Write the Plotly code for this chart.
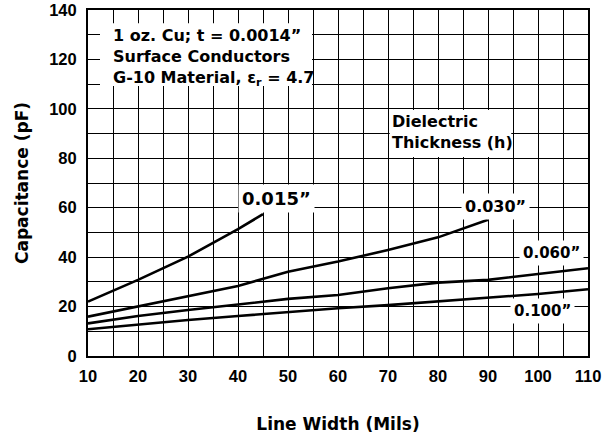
import plotly.graph_objects as go

# Data
width_015 = [10, 20, 30, 40, 45]
cap_015 = [22.0, 30.8, 40.2, 51.3, 57.4]

width_030 = [10, 20, 30, 40, 50, 60, 70, 80, 90]
cap_030 = [15.9, 20.0, 24.0, 28.3, 34.1, 38.2, 42.9, 48.0, 55.1]

width_060 = [10, 20, 30, 40, 50, 60, 70, 80, 90, 100, 110]
cap_060 = [13.2, 16.2, 18.6, 20.9, 23.1, 24.7, 27.4, 29.7, 30.8, 33.2, 35.5]

width_100 = [10, 20, 30, 40, 50, 60, 70, 80, 90, 100, 110]
cap_100 = [10.8, 12.8, 14.6, 16.2, 17.9, 19.3, 20.6, 22.0, 23.4, 25.1, 27.0]

series_names = ["0.015”", "0.030”", "0.060”", "0.100”"]
x_ticks = [10, 20, 30, 40, 50, 60, 70, 80, 90, 100, 110]
y_ticks = [0, 20, 40, 60, 80, 100, 120, 140]
info_lines = ["1 oz. Cu; t = 0.0014”", "Surface Conductors",
              "G-10 Material, ε<sub>r</sub> = 4.7"]

FONT = "DejaVu Sans"
TICKFONT = "Liberation Sans"

fig = go.Figure()
for xs, ys, name in [(width_015, cap_015, series_names[0]),
                     (width_030, cap_030, series_names[1]),
                     (width_060, cap_060, series_names[2]),
                     (width_100, cap_100, series_names[3])]:
    fig.add_trace(go.Scatter(x=xs, y=ys, mode="lines", name=name,
                             line=dict(color="black", width=2.6),
                             showlegend=False))

# White boxes behind text blocks
fig.add_shape(type="rect", xref="x", yref="y", x0=12.4, x1=54.8, y0=109.2, y1=134.6,
              fillcolor="white", line=dict(width=0), layer="above")
fig.add_shape(type="rect", xref="x", yref="y", x0=70.35, x1=94.65, y0=80.5, y1=99.5,
              fillcolor="white", line=dict(width=0), layer="above")

bold = dict(family=FONT, color="black", weight="bold")
tbold = dict(family=TICKFONT, color="black", weight="bold")

fig.add_annotation(x=14.6, y=120.6, xref="x", yref="y", xanchor="left", yanchor="middle",
                   align="left", showarrow=False, text="<br>".join(info_lines),
                   font=dict(size=16, **bold))
fig.add_annotation(x=70.4, y=90.5, xref="x", yref="y", xanchor="left", yanchor="middle",
                   align="left", showarrow=False,
                   text="Dielectric<br>Thickness (h)",
                   font=dict(size=16, **bold))

label_pos = [(47.7, 63.8, 18), (91.4, 60.3, 16), (102.6, 41.8, 15), (100.8, 18.3, 15)]
for (lx, ly, fs), name in zip(label_pos, series_names):
    fig.add_annotation(x=lx, y=ly, xref="x", yref="y", showarrow=False, text=name,
                       bgcolor="white", borderpad=3,
                       font=dict(size=fs, **bold))

fig.update_layout(
    width=602, height=435,
    margin=dict(l=88, r=14, t=10, b=79, autoexpand=False),
    plot_bgcolor="white", paper_bgcolor="white",
    font=dict(family=FONT, color="black"),
)
fig.update_xaxes(
    range=[10, 110], tickvals=x_ticks, ticktext=[str(v) for v in x_ticks],
    automargin=False, ticklabeloverflow="allow",
    showgrid=True, gridcolor="black", gridwidth=1.4,
    minor=dict(dtick=5, tick0=10, showgrid=True, gridcolor="black", gridwidth=1.4),
    showline=True, linecolor="black", linewidth=2, mirror=True,
    ticks="outside", ticklen=4, tickcolor="rgba(0,0,0,0)",
    tickfont=dict(size=16.5, **tbold), zeroline=False,
    title=dict(text="Line Width (Mils)", font=dict(size=17, **bold), standoff=34),
)
fig.update_yaxes(
    range=[0, 140], tickvals=y_ticks, ticktext=[str(v) for v in y_ticks],
    automargin=False, ticklabeloverflow="allow",
    showgrid=True, gridcolor="black", gridwidth=1.4,
    minor=dict(dtick=10, tick0=0, showgrid=True, gridcolor="black", gridwidth=1.4),
    showline=True, linecolor="black", linewidth=2, mirror=True,
    ticks="outside", ticklen=6, tickcolor="rgba(0,0,0,0)",
    tickfont=dict(size=16.5, **tbold), zeroline=False,
    title=dict(text="Capacitance (pF)", font=dict(size=17, **bold), standoff=16),
)

fig.write_html("out.html", config={"displayModeBar": False},
               post_script="document.body.style.margin='0';")
